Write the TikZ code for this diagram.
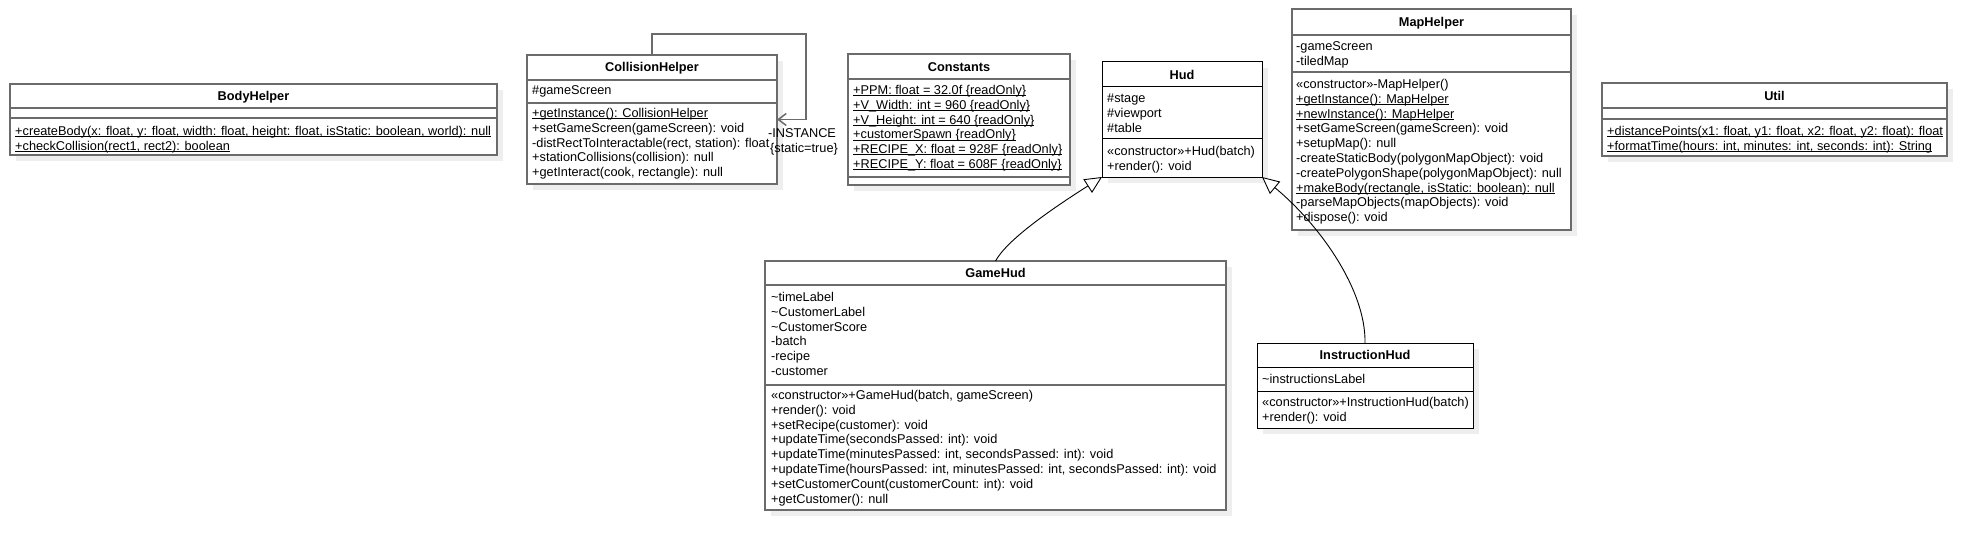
\documentclass[tikz,border=0pt]{standalone}
\usepackage{fontspec}
\setmainfont{Liberation Sans}
\usetikzlibrary{arrows.meta,shadows}
\definecolor{boxgrey}{HTML}{6B6B6B}
\definecolor{shadowgrey}{HTML}{EEEEEE}
\newcommand\ulx[1]{\setbox0\hbox{#1}\rlap{\rule[-1.6pt]{\wd0}{0.9pt}}\box0}
\begin{document}
\begin{tikzpicture}[x=1pt,y=-1pt,
  font=\fontsize{12.75}{15}\selectfont,
  shade/.style={drop shadow={shadow xshift=6pt,shadow yshift=-6pt,fill=shadowgrey,opacity=1}},
  gbox/.style={draw=boxgrey, line width=2pt, fill=white, inner sep=0, outer sep=0, anchor=north west, shade},
  kbox/.style={draw=black, line width=1pt, fill=white, inner sep=0, outer sep=0, anchor=north west, shade},
  gsep/.style={draw=boxgrey, line width=2pt},
  ksep/.style={draw=black, line width=1pt},
  ttl/.style={anchor=base, inner sep=0, font=\fontsize{12.75}{15}\selectfont\bfseries},
  mem/.style={anchor=base west, inner sep=0},
  gen/.style={draw=black, line width=0.9pt, -{Triangle[open, length=17pt, width=16pt, fill=white]}},
  selfloop/.style={draw=boxgrey, line width=1.5pt, -{Straight Barb[length=8pt, width=12pt]}},
]
\useasboundingbox[fill=white] (0,0) rectangle (1987,551);

% ---------- BodyHelper ----------
\node[gbox, minimum width=487pt, minimum height=71pt] (bh) at (10,84) {};
\draw[gsep] (bh.west |- 0,108) -- (bh.east |- 0,108);
\draw[gsep] (bh.west |- 0,118) -- (bh.east |- 0,118);
\node[ttl] (bht) at (253.5,100.5) {BodyHelper};
\node[mem] (bh1) at (15,135.5) {\ulx{+createBody(x: float, y: float, width: float, height: float, isStatic: boolean, world): null}};
\node[mem] (bh2) at (15,150.5) {\ulx{+checkCollision(rect1, rect2): boolean}};

% ---------- CollisionHelper ----------
\node[gbox, minimum width=250pt, minimum height=129pt] (ch) at (527,55) {};
\draw[gsep] (ch.west |- 0,80) -- (ch.east |- 0,80);
\draw[gsep] (ch.west |- 0,103) -- (ch.east |- 0,103);
\node[ttl] (cht) at (652,72) {CollisionHelper};
\node[mem] (cha) at (532,94.5) {\#gameScreen};
\node[mem] (ch1) at (532,117.5) {\ulx{+getInstance(): CollisionHelper}};
\node[mem] (ch2) at (532,132.3) {+setGameScreen(gameScreen): void};
\node[mem] (ch3) at (532,147.1) {-distRectToInteractable(rect, station): float};
\node[mem] (ch4) at (532,161.9) {+stationCollisions(collision): null};
\node[mem] (ch5) at (532,176.7) {+getInteract(cook, rectangle): null};

% ---------- Constants ----------
\node[gbox, minimum width=222pt, minimum height=131pt] (co) at (848,54) {};
\draw[gsep] (co.west |- 0,79) -- (co.east |- 0,79);
\draw[gsep] (co.west |- 0,177) -- (co.east |- 0,177);
\node[ttl] (cot) at (959,71) {Constants};
\node[mem] (co1) at (853,94.5) {\ulx{+PPM: float = 32.0f \{readOnly\}}};
\node[mem] (co2) at (853,109.3) {\ulx{+V\_Width: int = 960 \{readOnly\}}};
\node[mem] (co3) at (853,124.1) {\ulx{+V\_Height: int = 640 \{readOnly\}}};
\node[mem] (co4) at (853,138.9) {\ulx{+customerSpawn \{readOnly\}}};
\node[mem] (co5) at (853,153.7) {\ulx{+RECIPE\_X: float = 928F \{readOnly\}}};
\node[mem] (co6) at (853,168.5) {\ulx{+RECIPE\_Y: float = 608F \{readOnly\}}};

% ---------- Hud ----------
\node[kbox, minimum width=160pt, minimum height=115pt] (hud) at (1102,62) {};
\draw[ksep] (hud.west |- 0,87) -- (hud.east |- 0,87);
\draw[ksep] (hud.west |- 0,138) -- (hud.east |- 0,138);
\node[ttl] (hudt) at (1182,79) {Hud};
\node[mem] (huda1) at (1107,102.5) {\#stage};
\node[mem] (huda2) at (1107,117.3) {\#viewport};
\node[mem] (huda3) at (1107,132.1) {\#table};
\node[mem] (hud1) at (1107,155.5) {«constructor»+Hud(batch)};
\node[mem] (hud2) at (1107,170.3) {+render(): void};

% ---------- MapHelper ----------
\node[gbox, minimum width=279pt, minimum height=221pt] (mh) at (1292,9) {};
\draw[gsep] (mh.west |- 0,35) -- (mh.east |- 0,35);
\draw[gsep] (mh.west |- 0,72) -- (mh.east |- 0,72);
\node[ttl] (mht) at (1431.5,26.5) {MapHelper};
\node[mem] (mha1) at (1296,50.5) {-gameScreen};
\node[mem] (mha2) at (1296,65.3) {-tiledMap};
\node[mem] (mh1) at (1296,88.5) {«constructor»-MapHelper()};
\node[mem] (mh2) at (1296,103.3) {\ulx{+getInstance(): MapHelper}};
\node[mem] (mh3) at (1296,118.1) {\ulx{+newInstance(): MapHelper}};
\node[mem] (mh4) at (1296,132.9) {+setGameScreen(gameScreen): void};
\node[mem] (mh5) at (1296,147.7) {+setupMap(): null};
\node[mem] (mh6) at (1296,162.5) {-createStaticBody(polygonMapObject): void};
\node[mem] (mh7) at (1296,177.3) {-createPolygonShape(polygonMapObject): null};
\node[mem] (mh8) at (1296,192.1) {\ulx{+makeBody(rectangle, isStatic: boolean): null}};
\node[mem] (mh9) at (1296,206.9) {-parseMapObjects(mapObjects): void};
\node[mem] (mh10) at (1296,221.7) {+dispose(): void};

% ---------- Util ----------
\node[gbox, minimum width=345pt, minimum height=73pt] (ut) at (1602,83) {};
\draw[gsep] (ut.west |- 0,108) -- (ut.east |- 0,108);
\draw[gsep] (ut.west |- 0,119) -- (ut.east |- 0,119);
\node[ttl] (utt) at (1774.5,100) {Util};
\node[mem] (ut1) at (1607,135.5) {\ulx{+distancePoints(x1: float, y1: float, x2: float, y2: float): float}};
\node[mem] (ut2) at (1607,150.3) {\ulx{+formatTime(hours: int, minutes: int, seconds: int): String}};

% ---------- GameHud ----------
\node[gbox, minimum width=461pt, minimum height=249pt] (gh) at (765,261) {};
\draw[gsep] (gh.west |- 0,285) -- (gh.east |- 0,285);
\draw[gsep] (gh.west |- 0,385) -- (gh.east |- 0,385);
\node[ttl] (ght) at (995.5,277.5) {GameHud};
\node[mem] (gha1) at (771,301.5) {\textasciitilde timeLabel};
\node[mem] (gha2) at (771,316.3) {\textasciitilde CustomerLabel};
\node[mem] (gha3) at (771,331.1) {\textasciitilde CustomerScore};
\node[mem] (gha4) at (771,345.9) {-batch};
\node[mem] (gha5) at (771,360.7) {-recipe};
\node[mem] (gha6) at (771,375.5) {-customer};
\node[mem] (gh1) at (771,399.5) {«constructor»+GameHud(batch, gameScreen)};
\node[mem] (gh2) at (771,414.3) {+render(): void};
\node[mem] (gh3) at (771,429.1) {+setRecipe(customer): void};
\node[mem] (gh4) at (771,443.9) {+updateTime(secondsPassed: int): void};
\node[mem] (gh5) at (771,458.7) {+updateTime(minutesPassed: int, secondsPassed: int): void};
\node[mem] (gh6) at (771,473.5) {+updateTime(hoursPassed: int, minutesPassed: int, secondsPassed: int): void};
\node[mem] (gh7) at (771,488.3) {+setCustomerCount(customerCount: int): void};
\node[mem] (gh8) at (771,503.1) {+getCustomer(): null};

% ---------- InstructionHud ----------
\node[kbox, minimum width=216pt, minimum height=85pt] (ih) at (1257,343) {};
\draw[ksep] (ih.west |- 0,367) -- (ih.east |- 0,367);
\draw[ksep] (ih.west |- 0,391) -- (ih.east |- 0,391);
\node[ttl] (iht) at (1365,359.5) {InstructionHud};
\node[mem] (iha1) at (1262,383.5) {\textasciitilde instructionsLabel};
\node[mem] (ih1) at (1262,406.5) {«constructor»+InstructionHud(batch)};
\node[mem] (ih2) at (1262,421.3) {+render(): void};

% ---------- connectors ----------
\coordinate (loopc) at (806,34);
\draw[selfloop] (ch.north) |- (loopc) |- (ch.east);
\node[mem] (inst1) at (768,137.8) {-INSTANCE};
\node[mem] (inst2) at (770,152.8) {\{static=true\}};

\draw[gen] (gh.north) .. controls (1007,240) and (1050,210) .. (hud.south west);
\draw[gen] (ih.north) .. controls (1366,290) and (1320,225) .. (hud.south east);
\end{tikzpicture}
\end{document}
